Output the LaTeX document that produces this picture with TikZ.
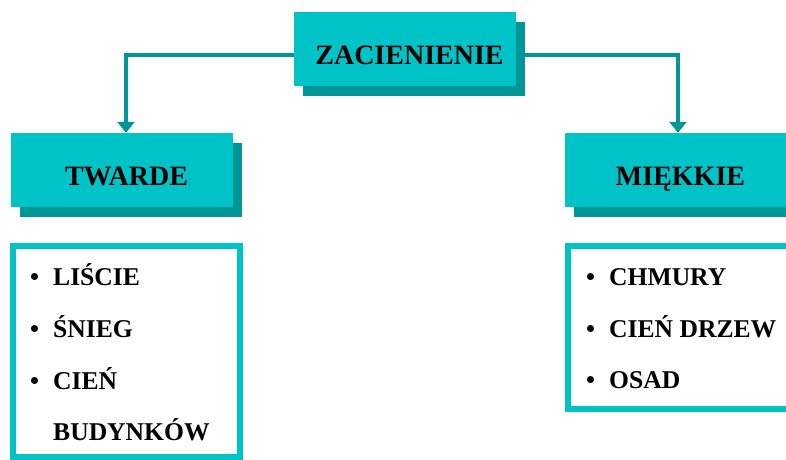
\documentclass[tikz,border=0pt]{standalone}
\usepackage{fontspec}
\setmainfont{Liberation Serif}
\usetikzlibrary{shadows,arrows.meta,backgrounds}
\definecolor{boxcyan}{RGB}{0,195,200}
\definecolor{shadeteal}{RGB}{0,150,152}

\begin{document}
\begin{tikzpicture}[x=1pt,y=-1pt]
                \tikzstyle{head}=[rectangle,fill=boxcyan,minimum width=222pt,minimum height=74pt,inner sep=0pt,text height=30pt,text depth=0pt,font=\fontsize{28}{33}\selectfont\bfseries,drop shadow={shadow xshift=9pt,shadow yshift=-10pt,fill=shadeteal,opacity=1},execute at begin node=\hspace*{9pt}]
                \tikzstyle{list}=[rectangle,draw=boxcyan,line width=6pt,minimum width=227pt,inner sep=0pt]
                \tikzstyle{item}=[anchor=base west,inner sep=0pt,font=\fontsize{25.6}{30}\selectfont\bfseries]
                \tikzstyle{conn}=[draw=shadeteal,line width=3.5pt,-{Triangle[width=17pt,length=11pt]}]
                \useasboundingbox (0,0) rectangle (786,459);
                \clip (0,0) rectangle (786,459);

                \node[head] (zac) at (405,49) {ZACIENIENIE};
                \node[head] (twa) at (122,170) {TWARDE};
                \node[head] (mie) at (676,170) {MIĘKKIE};

                \node[list,minimum height=211pt] (lst-l) at (126.5,351.5) {};
                \node[list,minimum height=163pt] (lst-r) at (681.5,327.5) {};

                \foreach \nm/\x/\y/\txt in {l1/30/285/LIŚCIE, l2/30/337/ŚNIEG, l3/30/389/CIEŃ, r1/586/285/CHMURY, r2/586/337/CIEŃ DRZEW, r3/586/388/OSAD}
                        \node[item] (it-\nm) at (\x,\y) {\makebox[23pt][l]{\textbullet}\txt};
                \node[item] (it-l4) at (53,440) {BUDYNKÓW};

                \begin{scope}[on background layer]
                    \draw[conn] ([yshift=-6pt]zac.west) -| ([xshift=4pt]twa.north);
                    \draw[conn] ([yshift=-6pt]zac.east) -| ([xshift=2pt]mie.north);
                \end{scope}
\end{tikzpicture}
\end{document}
